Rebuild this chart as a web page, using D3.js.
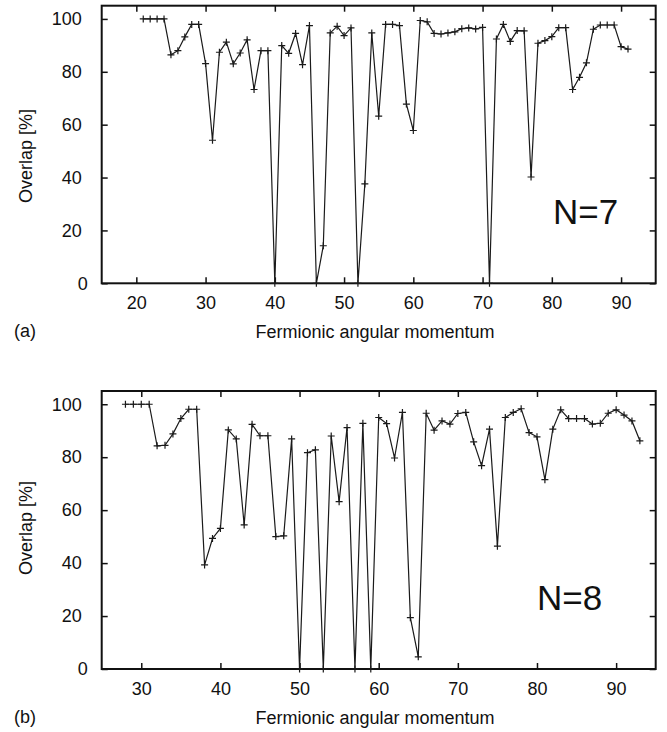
<!DOCTYPE html>
<html>
<head>
<meta charset="utf-8">
<script src="https://cdn.jsdelivr.net/npm/d3@7"></script>
<style>
  html, body { margin: 0; padding: 0; background: #fff; }
  svg { display: block; }
  text { font-family: "Liberation Sans", Arial, Helvetica, sans-serif; fill: #111; }
</style>
</head>
<body>
<svg id="chart" width="667" height="732"></svg>
<script>
// ---- Data ----
const momentumN7 = d3.range(21, 92); // 21..91
const overlapN7 = [
  100, 100, 100, 100, 86.4, 88, 93.2, 97.9, 97.9, 83.1,
  54.1, 87.4, 91.2, 83, 87.1, 92.1, 73.3, 88, 88, 0,
  89.9, 87, 94.5, 82.7, 97.5, 0, 14.2, 94.7, 97.2, 93.7,
  96.6, 0, 37.6, 94.7, 63.2, 97.9, 97.9, 97.5, 67.8, 57.8,
  99.4, 98.9, 94.5, 94.3, 94.7, 95.1, 96.3, 96.6, 96.2, 96.8,
  0, 92.4, 97.9, 91.5, 95.6, 95.5, 40.2, 90.8, 91.8, 93.3,
  96.7, 96.7, 73.3, 77.9, 83.4, 96.1, 97.7, 97.7, 97.7, 89.5,
  88.6
];
const momentumN8 = d3.range(28, 94); // 28..93
const overlapN8 = [
  100, 100, 100, 100, 84.3, 84.5, 88.8, 94.6, 98.1, 98.1,
  39.3, 49.3, 53.1, 90.3, 86.9, 54.4, 92.4, 88.1, 88.1, 50,
  50.3, 86.9, 0, 81.7, 82.8, 0, 88, 63.2, 91.2, 0,
  92.8, 0, 95, 92.7, 79.7, 96.9, 19.4, 4.6, 96.6, 90.2,
  93.7, 92.5, 96.5, 96.9, 85.8, 76.8, 90.6, 46.4, 95, 96.9,
  98.3, 89.3, 87.7, 71.5, 90.6, 97.9, 94.6, 94.6, 94.6, 92.5,
  92.8, 96.6, 97.9, 95.9, 93.7, 86.2
];
const xDomainN7 = [15, 95];
const xDomainN8 = [25, 95];
const xTicksN7 = [20, 30, 40, 50, 60, 70, 80, 90];
const xTicksN8 = [30, 40, 50, 60, 70, 80, 90];
const yDomain = [0, 105];
const yTicks = [0, 20, 40, 60, 80, 100];
const xLabel = "Fermionic angular momentum";
const yLabel = "Overlap [%]";

// ---- Drawing ----
const svg = d3.select("#chart");
const FONT = 18;

function panel(cfg) {
  const { top, bottom, left, right, xs, ys, xDomain, xTicks, tag, nLabel, nPos, ylabelY, tagY } = cfg;
  const x = d3.scaleLinear().domain(xDomain).range([left, right]);
  const y = d3.scaleLinear().domain(yDomain).range([bottom, top]);
  const g = svg.append("g");
  const TL = 6;

  // bottom axis with labels (inward ticks)
  g.append("g").attr("transform", `translate(0,${bottom})`)
    .call(d3.axisBottom(x).tickValues(xTicks).tickSize(-TL).tickPadding(13))
    .call(a => a.select(".domain").remove())
    .call(a => a.selectAll("line").attr("stroke", "#111").attr("stroke-width", 1.5))
    .call(a => a.selectAll("text").attr("font-size", FONT).style("font-family", "Liberation Sans, Arial, sans-serif").attr("fill", "#111"));
  // top mirror ticks
  g.append("g").attr("transform", `translate(0,${top})`)
    .call(d3.axisTop(x).tickValues(xTicks).tickSize(-TL).tickFormat(""))
    .call(a => a.select(".domain").remove())
    .call(a => a.selectAll("line").attr("stroke", "#111").attr("stroke-width", 1.5));
  // left axis with labels
  g.append("g").attr("transform", `translate(${left},0)`)
    .call(d3.axisLeft(y).tickValues(yTicks).tickSize(-TL).tickPadding(20))
    .call(a => a.select(".domain").remove())
    .call(a => a.selectAll("line").attr("stroke", "#111").attr("stroke-width", 1.5))
    .call(a => a.selectAll("text").attr("font-size", FONT).style("font-family", "Liberation Sans, Arial, sans-serif").attr("fill", "#111")
      .attr("dx", d => d === 0 ? 6 : 0));
  // right mirror ticks
  g.append("g").attr("transform", `translate(${right},0)`)
    .call(d3.axisRight(y).tickValues(yTicks).tickSize(-TL).tickFormat(""))
    .call(a => a.select(".domain").remove())
    .call(a => a.selectAll("line").attr("stroke", "#111").attr("stroke-width", 1.5));

  // frame
  g.append("rect")
    .attr("x", left).attr("y", top)
    .attr("width", right - left).attr("height", bottom - top)
    .attr("fill", "none").attr("stroke", "#111").attr("stroke-width", 2);

  const pts = xs.map((v, i) => [v, ys[i]]);
  // line
  g.append("path")
    .datum(pts)
    .attr("fill", "none")
    .attr("stroke", "#1a1a1a")
    .attr("stroke-width", 1.2)
    .attr("stroke-linejoin", "miter")
    .attr("d", d3.line().x(d => x(d[0])).y(d => y(d[1])));
  // "+" markers
  const h = 3.5;
  g.append("g").selectAll("path.pt").data(pts).join("path")
    .attr("class", "pt")
    .attr("fill", "none")
    .attr("stroke", "#1a1a1a")
    .attr("stroke-width", 1.2)
    .attr("d", d => {
      const cx = x(d[0]), cy = y(d[1]);
      return `M${cx - h},${cy}H${cx + h}M${cx},${cy - h}V${cy + h}`;
    });

  // y label
  g.append("text")
    .attr("transform", `translate(32,${ylabelY}) rotate(-90)`)
    .attr("text-anchor", "middle")
    .attr("font-size", FONT)
    .text(yLabel);
  // x label
  g.append("text")
    .attr("x", 375).attr("y", bottom + 55)
    .attr("text-anchor", "middle")
    .attr("font-size", FONT)
    .text(xLabel);
  // panel tag
  g.append("text")
    .attr("x", 14).attr("y", tagY)
    .attr("font-size", FONT)
    .text(tag);
  // N label
  g.append("text")
    .attr("x", nPos[0]).attr("y", nPos[1])
    .attr("font-size", 35)
    .text(nLabel);
}

panel({
  top: 5.7, bottom: 283.3, left: 101.7, right: 655.7,
  xs: momentumN7, ys: overlapN7, xDomain: xDomainN7, xTicks: xTicksN7,
  tag: "(a)", tagY: 337, nLabel: "N=7", nPos: [553, 224], ylabelY: 156
});
panel({
  top: 391, bottom: 669, left: 101.7, right: 655.7,
  xs: momentumN8, ys: overlapN8, xDomain: xDomainN8, xTicks: xTicksN8,
  tag: "(b)", tagY: 723, nLabel: "N=8", nPos: [537, 610], ylabelY: 528
});
</script>
</body>
</html>
